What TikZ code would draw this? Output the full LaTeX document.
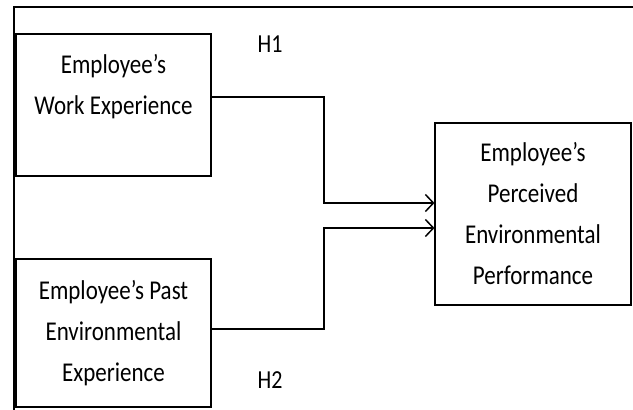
\documentclass[tikz,border=0pt]{standalone}
\usepackage{graphicx}
\usepackage{fontspec}
\setmainfont{Carlito}
\usetikzlibrary{arrows.meta}
\newcommand\tallline[1]{\scalebox{1}[1.18]{#1}}
\begin{document}
\begin{tikzpicture}[x=1pt,y=-1pt,
  var/.style={draw,line width=1.1pt,inner sep=0pt,align=center,
    font=\fontsize{23}{41}\selectfont},
  hyp/.style={font=\fontsize{22}{25}\selectfont},
  link/.style={line width=1.5pt,-{Straight Barb[length=8pt,width=17pt,line width=1.5pt]}}]
\useasboundingbox(0,0)rectangle(633,410);
\draw[line width=2pt](14,412)--(14,7)--(634,7);
%
\node[var,minimum width=195pt,minimum height=142pt](work)at(113.5,105)
  {\tallline{Employee’s}\\\tallline{Work Experience}\\\mbox{}};
\node[var,minimum width=195pt,minimum height=148pt](past)at(113.5,333)
  {\tallline{Employee’s Past}\\\tallline{Environmental}\\\tallline{Experience}};
\node[var,minimum width=196pt,minimum height=182pt](perf)at(533,214)
  {\tallline{Employee’s}\\\tallline{Perceived}\\\tallline{Environmental}\\\tallline{Performance}};
%
\node[hyp](h1)at(270,44){\tallline{H1}};
\node[hyp](h2)at(270,380){\tallline{H2}};
%
\coordinate(in1)at([yshift=11pt]perf.west);
\coordinate(in2)at([yshift=-14pt]perf.west);
\draw[link](work.east|-0,97)-|(324,0|-in1)--(in1);
\draw[link](past.east|-0,329)-|(324,0|-in2)--(in2);
\end{tikzpicture}
\end{document}
